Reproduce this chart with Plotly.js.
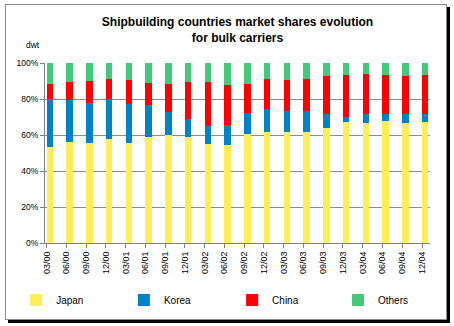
<!DOCTYPE html>
<html>
<head>
<meta charset="utf-8">
<script src="https://cdn.plot.ly/plotly-3.0.1.min.js"></script>
<style>
  html, body { margin: 0; padding: 0; background: #fff; }
  #wrap { position: relative; width: 454px; height: 326px; }
  #chart { position: absolute; left: 0; top: 0; width: 454px; height: 326px; }
  #frame { position: absolute; left: 5px; top: 4px; width: 440px; height: 314px;
           border: 1px solid #8c8c8c; box-shadow: 3px 3px 0 #000; pointer-events: none; }
</style>
</head>
<body>
<div id="wrap">
  <div id="chart"></div>
  <div id="frame"></div>
</div>
<script>
const categories = ["03/00","06/00","09/00","12/00","03/01","06/01","09/01","12/01","03/02","06/02",
                    "09/02","12/02","03/03","06/03","09/03","12/03","03/04","06/04","09/04","12/04"];
const japan  = [53.3,56.1,55.6,57.8,55.6,58.9,60.0,58.9,55.0,54.4,60.6,61.7,61.7,61.7,63.9,67.2,66.7,67.8,66.7,67.2];
const korea  = [26.7,23.3,22.2,22.2,21.7,17.8,12.8,10.0,10.0,11.1,11.7,12.8,11.7,11.7, 7.8, 2.8, 5.0, 3.9, 5.0, 4.4];
const china  = [ 8.3,10.0,12.2,11.1,13.3,12.2,15.6,20.6,24.4,22.2,16.1,16.7,17.2,17.8,21.1,23.3,22.2,21.7,21.1,21.7];
const others = [11.7,10.6,10.0, 8.9, 9.4,11.1,11.7,10.6,10.6,12.2,11.7, 8.9, 9.4, 8.9, 7.2, 6.7, 6.1, 6.7, 7.2, 6.7];
const seriesNames = ["Japan","Korea","China","Others"];
const seriesColors = ["#FFEE58","#0082C8","#FF0000","#44C87A"];
const seriesValues = [japan, korea, china, others];
const legendIds = ['legend','legend2','legend3','legend4'];
const legendX = [-0.075, 0.205, 0.486, 0.761];

const traces = seriesValues.map((vals, i) => ({
  type: 'bar',
  name: seriesNames[i],
  x: categories,
  y: vals,
  offset: 0,
  width: 0.32,
  legend: legendIds[i],
  marker: { color: seriesColors[i], line: { width: 0 } },
  hoverinfo: 'x+y+name'
}));

const layout = {
  width: 454, height: 326,
  margin: { l: 45, r: 24, t: 63, b: 83 },
  paper_bgcolor: 'rgba(0,0,0,0)',
  plot_bgcolor: '#fff',
  font: { family: '"Liberation Sans", Arial, sans-serif', color: '#000', size: 9 },
  barmode: 'stack',
  barnorm: 'percent',
  title: {
    text: 'Shipbuilding countries market shares evolution<br>for bulk carriers',
    font: { size: 12, weight: 'bold', color: '#000' },
    x: 0.5, xref: 'paper', xanchor: 'center',
    y: 1 - 26 / 326, yref: 'container', yanchor: 'middle'
  },
  xaxis: {
    type: 'category',
    range: [-0.086, 19.405],
    tickangle: -90,
    ticks: 'outside', ticklen: 4, tickcolor: '#808080',
    showline: true, linecolor: '#808080', linewidth: 1,
    showgrid: false,
    tickfont: { size: 9 },
    fixedrange: true
  },
  yaxis: {
    range: [0, 100],
    dtick: 20,
    ticksuffix: '%',
    ticks: 'outside', ticklen: 4, tickcolor: '#808080',
    showline: true, linecolor: '#808080', linewidth: 1,
    gridcolor: '#8c8c8c', gridwidth: 1,
    zeroline: false,
    tickfont: { size: 8.5 },
    fixedrange: true
  },
  annotations: [{
    text: 'dwt', xref: 'paper', yref: 'paper',
    x: -0.031, y: 1.1, xanchor: 'center', yanchor: 'middle',
    showarrow: false, font: { size: 8.5 }
  }],
  showlegend: true
};
legendIds.forEach((id, i) => {
  layout[id] = {
    orientation: 'h',
    x: legendX[i], xanchor: 'left',
    y: -0.317, yanchor: 'middle',
    itemwidth: 30,
    font: { size: 10 },
    bgcolor: 'rgba(0,0,0,0)'
  };
});

Plotly.newPlot('chart', traces, layout, { displayModeBar: false, staticPlot: true });
</script>
</body>
</html>
